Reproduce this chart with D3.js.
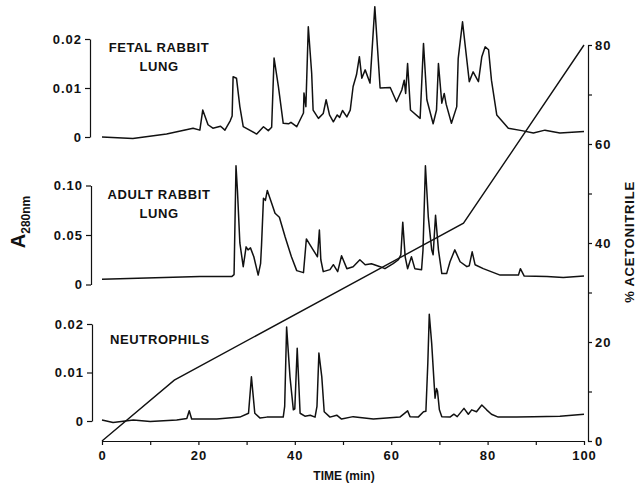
<!DOCTYPE html>
<html>
<head>
<meta charset="utf-8">
<script src="https://cdnjs.cloudflare.com/ajax/libs/d3/7.8.5/d3.min.js"></script>
<style>
body { margin:0; background:#fff; }
text { font-family: "Liberation Sans", Arial, sans-serif; font-weight:bold; fill:#111; }
.tick text { font-size:13px; letter-spacing:1px; }
.tick line, .domain { stroke:#111; stroke-width:1.2; }
</style>
</head>
<body>
<div id="a"></div>
<script>
// traces, A values in units of 0.001
var fetalT = [0,6.4,13.4,18.9,20.3,20.9,22,23,24.6,25.5,26.6,27.0,27.2,27.9,28.6,29.3,32.1,33.5,34.5,35.2,35.7,36.6,37.6,38.7,39.2,40.4,41.8,41.9,42.3,42.8,43.5,43.8,44.9,45.9,46.5,47.2,48.0,48.8,49.3,49.9,50.8,51.5,52.1,52.8,53.4,53.9,54.6,55.6,56.6,57.7,59.8,61.1,62.2,62.7,63.0,63.4,64.0,66.0,66.7,67.4,68.7,69.4,69.8,70.5,71.0,71.4,72.5,73.6,73.9,74.8,75.3,76.2,77.0,78.1,78.8,79.5,80.2,80.8,81.9,84.3,87.1,89.5,91.9,95.0,100]
var fetalA = [0,-0.3,0.6,1.8,1.4,5.5,2.5,1.8,2.2,1.4,3.3,4.3,12.3,12.0,6.2,2.1,0.6,2.1,1.3,2.0,16.1,10.3,2.8,2.7,3.0,2.1,4.9,9.0,6.2,22.5,13.0,5.5,3.8,4.8,7.6,4.5,3.1,4.5,4.0,5.4,4.1,5.5,10.3,12.7,16.4,12.0,13.7,11.0,26.6,10.0,10.1,7.2,9.6,11.6,8.9,15.0,5.5,3.8,19.1,7.6,2.7,5.5,15.0,6.9,8.9,6.7,2.8,6.2,16.0,23.5,19.1,11.3,13.3,11.3,16.4,18.4,17.8,11.6,4.5,1.8,1.3,0.8,1.4,0.8,1.1]

var adultT = [0,20.3,26.9,27.4,27.8,28.1,28.6,29.3,29.9,30.3,30.8,31.5,32.4,32.9,33.1,33.5,33.9,34.3,35.2,35.9,36.8,38.0,39.3,40.4,41.8,42.4,43.8,44.7,45.1,45.4,45.9,47.3,48.0,48.9,49.7,50.8,52.1,53.5,54.6,55.9,57.7,58.7,60.4,61.5,62.0,62.4,62.9,63.4,64.2,64.9,66.3,66.6,67.1,67.7,68.4,68.7,69.2,69.8,70.5,71.5,72.2,73.2,74.3,75.7,76.2,76.8,77.4,79.1,82.6,86.4,86.8,87.6,92.3,95.7,100]
var adultA = [5.2,8,8,10,120,95,42,18,38,35,37,28,9.5,21,40,87,85,95,82,72,68,48,28,14,12,46,35,28,55,25,13,15,20,13,29,16,18,25,20,21,18,16,21,25,30,63,28,16,28,16,15,35,120,68,35,30,70,35,11,11,23,35,23,18,19,33,20,16,9.5,9.5,16,8.5,8,7,8.5]

var neutT = [0,2.3,6.5,10,15.5,17.6,18.1,18.6,23.8,28.6,30.4,31.0,31.7,32.8,34.2,37.6,37.9,38.3,39.0,39.7,40.0,40.5,41.1,42.1,43.2,44.2,44.6,45.0,45.6,46.1,47.3,48.7,49.7,52.1,56.3,61.8,63.4,63.9,65.6,66.7,67.2,67.6,67.9,68.4,68.9,69.1,69.4,69.6,70.0,70.5,72.2,73.0,73.7,75.1,76.0,76.7,77.7,78.8,79.8,80.8,82.2,86.0,89.5,95,100]
var neutA = [0.2,-0.3,0.2,-0.1,0.2,0.5,2.1,0.4,0.4,0.8,1.6,9.1,1.6,0.6,0.8,0.8,3,19.4,9.1,2.3,2.5,15,1.6,1.0,1.2,0.8,3,14,9.1,1.9,0.8,1.2,0.4,0.9,0.4,0.8,2.1,0.9,0.8,1.9,2.0,12,22,16,7.8,4.7,6.7,6.2,2.3,0.9,0.8,1.4,0.9,2.6,1.4,2.3,1.9,3.3,2.3,1.4,0.8,0.8,0.9,1.0,1.4]

// acetonitrile gradient
var gradT = [0,15,75,100]
var gradPct = [0,12.3,44,80]

var timeTicks = [0,20,40,60,80,100]
var pctTicks = [0,10,20,30,40,50,60,70,80]
var fetalTicks = [0,0.01,0.02]
var adultTicks = [0,0.05,0.10]
var neutTicks = [0,0.01,0.02]

var W = 638, H = 486

svg = d3.select("#a").append("svg")
	.attr("width", W)
	.attr("height", H)

x = d3.scaleLinear().domain([0,100]).range([102,584])
yPct = d3.scaleLinear().domain([0,80]).range([441,45])

// one entry per chromatogram panel
var panels = [
	{t:fetalT, a:fetalA, ticks:fetalTicks, max:0.02, y0:137, y1:39, ax:90, label:["FETAL RABBIT","LUNG"], lx:159, ly:47},
	{t:adultT, a:adultA, ticks:adultTicks, max:0.10, y0:284.5, y1:185.5, ax:91, label:["ADULT RABBIT","LUNG"], lx:159, ly:194},
	{t:neutT, a:neutA, ticks:neutTicks, max:0.02, y0:421, y1:324, ax:92, label:["NEUTROPHILS"], lx:160, ly:339}
]

panels.forEach(function(p){
	var y = d3.scaleLinear().domain([0,p.max]).range([p.y0,p.y1])
	var ax = svg.append("g")
		.attr("transform","translate("+p.ax+",0)")
		.call(d3.axisLeft(y).tickValues(p.ticks).tickSize(5).tickSizeOuter(0)
			.tickFormat(function(d){return d==0?"0":d3.format(".2f")(d)}))
	ax.selectAll(".tick text").attr("x",-8)

	var pts = p.t.map(function(t,i){return [t, p.a[i]/1000]})
	svg.append("path")
		.datum(pts)
		.attr("fill","none")
		.attr("stroke","#111")
		.attr("stroke-width",1.5)
		.attr("stroke-linejoin","round")
		.attr("d", d3.line().x(function(d){return x(d[0])}).y(function(d){return y(d[1])}))

	p.label.forEach(function(s,i){
		svg.append("text")
			.attr("x",p.lx).attr("y",p.ly+i*19)
			.attr("dy","0.35em")
			.attr("text-anchor","middle")
			.style("font-size","13px")
			.style("letter-spacing","0.6px")
			.text(s)
	})
})

// time axis
var xa = svg.append("g")
	.attr("transform","translate(0,441)")
	.call(d3.axisBottom(x).tickValues(d3.range(0,101,10)).tickSize(4).tickSizeOuter(0)
		.tickFormat(function(d){return timeTicks.indexOf(d)>=0 ? d : ""}))
xa.selectAll(".tick text").attr("y",10).style("font-size","13px")

svg.append("text")
	.attr("x",344).attr("y",476)
	.attr("dy","0.35em")
	.attr("text-anchor","middle")
	.style("font-size","12px")
	.text("TIME (min)")

// acetonitrile axis on the right
var ra = svg.append("g")
	.attr("transform","translate(588,0)")
	.call(d3.axisRight(yPct).tickValues(pctTicks).tickSize(4).tickSizeOuter(0)
		.tickFormat(function(d){return d%20==0 ? d : ""}))
ra.selectAll(".tick text").attr("x",7).style("font-size","13px")

svg.append("path")
	.datum(gradT.map(function(t,i){return [t,gradPct[i]]}))
	.attr("fill","none")
	.attr("stroke","#111")
	.attr("stroke-width",1.4)
	.attr("d", d3.line().x(function(d){return x(d[0])}).y(function(d){return yPct(d[1])}))

// axis titles
var at = svg.append("text")
	.attr("transform","translate(25,222) rotate(-90)")
	.attr("text-anchor","middle")
at.append("tspan").style("font-size","20px").text("A")
at.append("tspan").style("font-size","12px").attr("dy",5).text("280nm")

svg.append("text")
	.attr("transform","translate(634,242) rotate(-90)")
	.attr("text-anchor","middle")
	.style("font-size","13px")
	.style("letter-spacing","0.8px")
	.text("% ACETONITRILE")
</script>
</body>
</html>
